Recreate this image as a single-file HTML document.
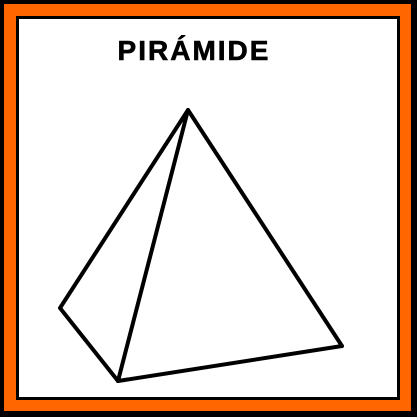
<!DOCTYPE html>
<html><head><meta charset="utf-8"><style>
html,body{margin:0;padding:0;background:#fff;}
svg{display:block;}
</style></head><body>
<svg width="417" height="417" viewBox="0 0 417 417">
  <rect x="0" y="0" width="417" height="417" fill="#000"/>
  <rect x="4" y="4" width="407" height="407" fill="#ff6600"/>
  <rect x="16" y="16" width="384" height="384" fill="#000"/>
  <rect x="19" y="19" width="378" height="378" fill="#fff"/>
  <text x="194" y="60" text-anchor="middle" font-family="Liberation Sans, sans-serif" font-weight="bold" font-size="28" letter-spacing="2" fill="#000" stroke="#000" stroke-width="0.6">PIRÁMIDE</text>
  <g stroke="#000" stroke-width="4" fill="none" stroke-linejoin="round" stroke-linecap="round">
    <path d="M188 110 L60 308 L118 381 L342 346 Z"/>
    <path d="M188 110 L118 381"/>
  </g>
</svg>
</body></html>
